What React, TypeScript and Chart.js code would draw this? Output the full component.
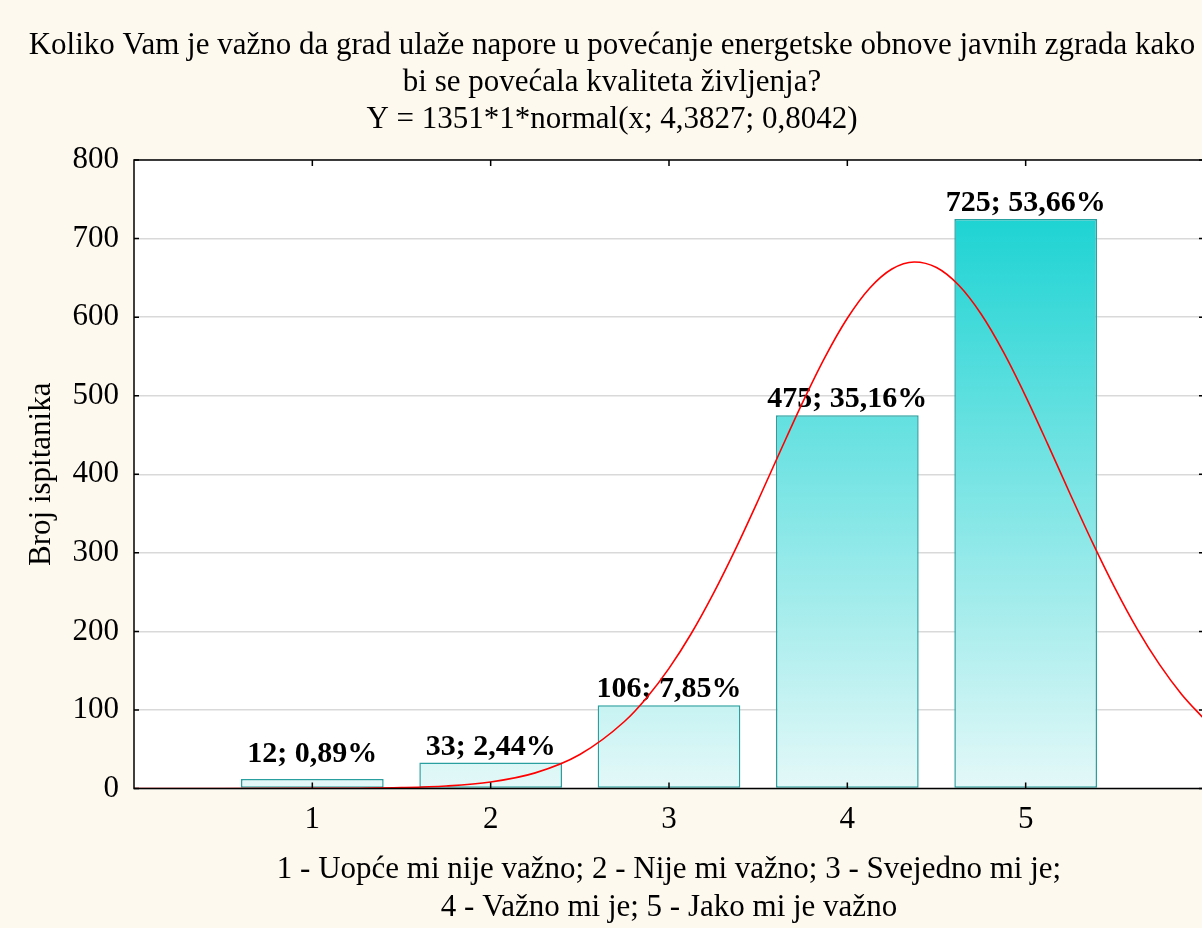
import React, { useEffect, useRef } from 'react';
import { Chart, registerables } from 'chart.js';

Chart.register(...registerables);

const titleLines = [
  'Koliko Vam je važno da grad ulaže napore u povećanje energetske obnove javnih zgrada kako',
  'bi se povećala kvaliteta življenja?',
  'Y = 1351*1*normal(x; 4,3827; 0,8042)',
];
const categories = [1, 2, 3, 4, 5];
const counts = [12, 33, 106, 475, 725];
const percents = ['0,89', '2,44', '7,85', '35,16', '53,66'];
const curveX = [
  0, 0.5, 1, 1.25, 1.5, 1.75, 2, 2.25, 2.5, 2.75, 2.875, 3, 3.125, 3.25, 3.375, 3.5, 3.625, 3.75, 3.875,
  4, 4.125, 4.25, 4.375, 4.5, 4.625, 4.75, 4.875, 5, 5.125, 5.25, 5.375, 5.5, 5.625, 5.75, 5.875, 6,
];
const curveY = [
  0, 0, 0.1, 0.3, 1.1, 3.2, 8.3, 19.9, 43.3, 85.3, 115.6, 152.9, 197.3, 248.7, 305.7, 366.9, 429.9, 491.8, 549.1,
  598.5, 636.7, 661.2, 670.2, 663.1, 640.5, 603.9, 555.7, 499.2, 437.7, 374.6, 313.0, 255.4, 203.2, 158.0, 119.8, 88.7,
];
const xTickValues = [1, 2, 3, 4, 5];
const yAxisTitle = 'Broj ispitanika';
const xAxisTitle = [
  '1 - Uopće mi nije važno; 2 - Nije mi važno; 3 - Svejedno mi je;',
  '4 - Važno mi je; 5 - Jako mi je važno',
];

const FONT = "'Liberation Serif', 'Times New Roman', serif";

const decor = {
  id: 'decor',
  beforeDraw(chart: any) {
    const { ctx, chartArea: a, width, height } = chart;
    ctx.save();
    ctx.fillStyle = '#fdf9ef';
    ctx.fillRect(0, 0, width, height);
    ctx.fillStyle = '#ffffff';
    ctx.fillRect(a.left, a.top, a.right - a.left, a.bottom - a.top);
    ctx.restore();
  },
  afterDatasetDraw(chart: any, args: any) {
    if (args.index !== 0) return;
    const { ctx, chartArea: a } = chart;
    const meta = chart.getDatasetMeta(0);
    ctx.save();
    ctx.font = `bold 30px ${FONT}`;
    ctx.fillStyle = '#000';
    ctx.textAlign = 'center';
    ctx.textBaseline = 'alphabetic';
    meta.data.forEach((el: any, i: number) => {
      const yb = Math.min(el.y - 8, a.bottom - 27);
      ctx.fillText(`${counts[i]}; ${percents[i]}%`, el.x, yb);
    });
    ctx.restore();
  },
  afterDraw(chart: any) {
    const { ctx, chartArea: a } = chart;
    const xs = chart.scales.x;
    const ys = chart.scales.y;
    ctx.save();
    ctx.strokeStyle = '#000';
    ctx.lineWidth = 1.5;
    ctx.strokeRect(a.left, a.top, a.right - a.left, a.bottom - a.top);
    ctx.beginPath();
    ys.ticks.forEach((t: any) => {
      const py = ys.getPixelForValue(t.value);
      ctx.moveTo(a.left, py);
      ctx.lineTo(a.left + 5, py);
      ctx.moveTo(a.right - 5, py);
      ctx.lineTo(a.right, py);
    });
    xs.ticks.forEach((t: any) => {
      const px = xs.getPixelForValue(t.value);
      ctx.moveTo(px, a.bottom);
      ctx.lineTo(px, a.bottom - 6);
      ctx.moveTo(px, a.top);
      ctx.lineTo(px, a.top + 6);
    });
    ctx.stroke();
    ctx.restore();
  },
};

export default function App() {
  const ref = useRef<HTMLCanvasElement | null>(null);

  useEffect(() => {
    if (!ref.current) return;
    const chart = new Chart(ref.current, {
      type: 'bar',
      data: {
        datasets: [
          {
            type: 'bar',
            order: 2,
            data: categories.map((c, i) => ({ x: c, y: counts[i] })),
            backgroundColor: (c: any) => {
              const ch = c.chart;
              const ys = ch.scales && ch.scales.y;
              if (!ch.chartArea || !ys) return '#7fe0e0';
              const g = ch.ctx.createLinearGradient(0, ys.getPixelForValue(0), 0, ys.getPixelForValue(730));
              g.addColorStop(0, '#e4f8f8');
              g.addColorStop(1, '#1dd3d3');
              return g;
            },
            borderColor: '#2a9f9f',
            borderWidth: 1.5,
            borderSkipped: false,
            barPercentage: 0.8,
            categoryPercentage: 1,
          } as any,
          {
            type: 'line',
            order: 1,
            data: curveX.map((x, i) => ({ x, y: curveY[i] })),
            borderColor: '#ff0000',
            borderWidth: 1.6,
            pointRadius: 0,
            fill: false,
            cubicInterpolationMode: 'monotone',
          } as any,
        ],
      },
      options: {
        animation: false,
        responsive: false,
        layout: { padding: { left: 20, right: 0, top: 0, bottom: 0 } },
        plugins: {
          legend: { display: false },
          tooltip: { enabled: false },
          title: {
            display: true,
            text: titleLines,
            color: '#000',
            font: { family: FONT, size: 31, weight: 'normal', lineHeight: '37px' },
            padding: { top: 27, bottom: 22 },
          },
        },
        scales: {
          x: {
            type: 'linear',
            min: 0,
            max: 6,
            offset: false,
            grid: { display: false, drawTicks: false, offset: false },
            border: { display: false },
            afterBuildTicks: (s: any) => {
              s.ticks = xTickValues.map((v) => ({ value: v }));
            },
            afterFit: (s: any) => {
              s.height = 139.5;
            },
            ticks: {
              color: '#000',
              font: { family: FONT, size: 31, lineHeight: 1.2 },
              padding: 13,
              maxRotation: 0,
              autoSkip: false,
            },
            title: {
              display: true,
              text: xAxisTitle,
              color: '#000',
              font: { family: FONT, size: 31, lineHeight: '38px' },
              padding: { top: 11, bottom: 1.5 },
            },
          },
          y: {
            type: 'linear',
            min: 0,
            max: 800,
            afterFit: (s: any) => {
              s.width = 114;
            },
            ticks: {
              stepSize: 100,
              color: '#000',
              font: { family: FONT, size: 31, lineHeight: 1.2 },
              padding: 15,
            },
            grid: { color: '#d9d9d9', lineWidth: 1.5, drawTicks: false },
            border: { display: false },
            title: {
              display: true,
              text: yAxisTitle,
              color: '#000',
              font: { family: FONT, size: 31, lineHeight: 1.2 },
              padding: { top: 3.4, bottom: 12 },
            },
          },
        },
      } as any,
      plugins: [decor],
    });
    return () => chart.destroy();
  }, []);

  return (
    <div
      style={{
        position: 'absolute',
        left: 0,
        top: 0,
        width: 1202,
        height: 928,
        overflow: 'hidden',
        background: '#fdf9ef',
      }}
    >
      <canvas ref={ref} width={1204} height={928} style={{ display: 'block', width: 1204, height: 928 }} />
    </div>
  );
}
